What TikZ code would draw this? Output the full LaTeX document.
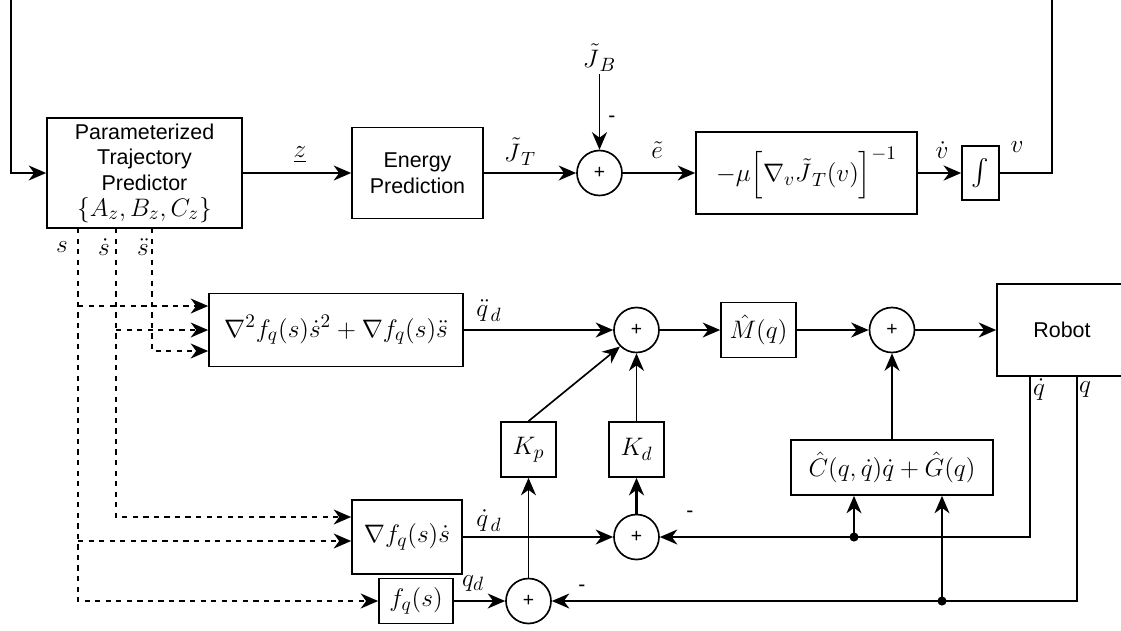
\documentclass[tikz,border=0pt]{standalone}
\usepackage{amsmath,amssymb}
\usepackage{fontspec}
\newfontfamily\arialfont{Liberation Sans}
\newcommand{\mathsz}{\fontsize{15}{18}\selectfont}
\newcommand{\txtsz}{\arialfont\fontsize{12.2}{14.6}\selectfont}
\usepackage{tikz}
\usetikzlibrary{arrows.meta,positioning}

\begin{document}
\begin{tikzpicture}[line width=0.95pt,
      blk/.style={draw, inner sep=2pt, font=\mathsz},
      txt/.style={draw, align=center, inner sep=2pt, font=\txtsz},
      sumc/.style={draw, circle, minimum size=0.9cm, inner sep=0pt,
                   font=\arialfont\fontsize{11}{12}\selectfont},
      lbl/.style={inner sep=1pt, font=\mathsz},
      sgn/.style={inner sep=0pt, font=\arialfont\fontsize{12}{12}\selectfont},
      arr/.style={-{Stealth[length=3.5mm,width=3mm,inset=1.1mm]}},
      dsh/.style={dashed, arr}
  ]
    \useasboundingbox (0,0) rectangle (22.42,-12.6);
    \node[txt, minimum width=3.9cm, minimum height=2.2cm] (pred) at (2.89,-3.46)
          {Parameterized\\ Trajectory\\ Predictor\\ {\mathsz$\{A_z,B_z,C_z\}$}};
    \node[txt, minimum width=2.62cm, minimum height=1.82cm] (energy) at (8.35,-3.46)
          {Energy\\ Prediction};
    \node[sumc] (s1) at (11.99,-3.46) {+};
    \node[blk, minimum width=4.42cm, minimum height=1.64cm] (grad) at (16.13,-3.46)
          {$-\mu\Big[\nabla_v\tilde{J}_{\,T}(v)\Big]^{-1}$};
    \node[blk, minimum width=0.74cm, minimum height=1.08cm, inner sep=0pt] (integ) at (19.61,-3.46) {$\int$};

    \node[blk, minimum width=5.08cm, minimum height=1.46cm] (acc) at (6.72,-6.6)
          {$\nabla^2 f_q(s)\dot{s}^2+\nabla f_q(s)\ddot{s}$};
    \node[sumc] (s2) at (12.73,-6.6) {+};
    \node[blk, minimum width=1.5cm, minimum height=1.1cm] (mhat) at (15.17,-6.6) {$\hat{M}(q)$};
    \node[sumc] (s3) at (17.84,-6.6) {+};
    \node[txt, minimum width=2.6cm, minimum height=1.84cm] (robot) at (21.24,-6.6) {Robot};

    \node[blk, minimum size=1.1cm] (kp) at (10.57,-8.99) {$K_p$};
    \node[blk, minimum size=1.1cm] (kd) at (12.73,-8.99) {$K_d$};
    \node[blk, minimum width=4.04cm, minimum height=1.1cm] (cg) at (17.84,-9.35)
          {$\hat{C}(q,\dot{q})\dot{q}+\hat{G}(q)$};

    \node[blk, minimum width=2.2cm, minimum height=1.48cm] (vel) at (8.14,-10.74) {$\nabla f_q(s)\dot{s}$};
    \node[sumc] (s5) at (12.73,-10.74) {+};
    \node[blk, minimum width=1.48cm, minimum height=0.9cm] (pos) at (8.32,-12.02) {$f_q(s)$};
    \node[sumc] (s4) at (10.57,-12.02) {+};

    \node[lbl] (lz)   at (6.0,-3.1)    {$\underline{z}$};
    \node[lbl] (ljt)  at (10.4,-3.04)  {$\tilde{J}_{\,T}$};
    \node[lbl] (ljb)  at (11.99,-1.16) {$\tilde{J}_{\,B}$};
    \node[sgn] (m1)   at (12.24,-2.38) {-};
    \node[lbl] (le)   at (13.14,-3.0)  {$\tilde{e}$};
    \node[lbl] (lvd)  at (18.84,-3.0)  {$\dot{v}$};
    \node[lbl] (lv)   at (20.34,-2.94) {$v$};
    \node[lbl] (ls)   at (1.24,-4.94)  {$s$};
    \node[lbl] (lsd)  at (2.08,-4.94)  {$\dot{s}$};
    \node[lbl] (lsdd) at (2.86,-4.94)  {$\ddot{s}$};
    \node[lbl] (lqdd) at (9.78,-6.22)  {$\ddot{q}_{\,d}$};
    \node[lbl] (lqd)  at (9.78,-10.42) {$\dot{q}_{\,d}$};
    \node[lbl] (lq)   at (9.46,-11.66) {$q_d$};
    \node[sgn] (m2)   at (13.8,-10.28) {-};
    \node[sgn] (m3)   at (11.64,-11.76) {-};
    \node[lbl] (lqdot) at (20.78,-7.8) {$\dot{q}$};
    \node[lbl] (lqq)  at (21.7,-7.8)   {$q$};

    \coordinate (fbL) at (0.22,0);
    \coordinate (fbR) at (21.04,0);
    \coordinate (sx)   at (1.56,-4.56);
    \coordinate (sdx)  at (2.32,-4.56);
    \coordinate (sddx) at (3.04,-4.56);
    \coordinate (qdo) at (20.6,-7.52);
    \coordinate (qo)  at (21.54,-7.52);
    \coordinate (jq1) at (17.08,-10.74);
    \coordinate (jq2) at (18.84,-12.02);

    \draw[arr] (fbL) |- (pred.west);
    \draw[arr] (pred) -- (energy);
    \draw[arr] (energy) -- (s1);
    \draw[arr] (ljb) -- (s1);
    \draw[arr] (s1) -- (grad);
    \draw[arr, line width=1.6pt] (grad) -- (integ);
    \draw (integ.east) -| (fbR);

    \draw[dsh] (sx) |- (pos.west);
    \draw[dsh] (sx |- 0,-6.12) -- (acc.west |- 0,-6.12);
    \draw[dsh] (sx |- 0,-10.82) -- (vel.west |- 0,-10.82);
    \draw[dsh] (sdx) |- (vel.west |- 0,-10.34);
    \draw[dsh] (sdx |- acc.west) -- (acc.west);
    \draw[dsh] (sddx) |- (acc.west |- 0,-7.02);

    \draw[arr] (acc) -- (s2);
    \draw[arr] (s2) -- (mhat);
    \draw[arr] (mhat) -- (s3);
    \draw[arr] (s3) -- (robot);
    \draw[arr] (kp.north) -- (s2.south west);
    \draw[arr] (kd) -- (s2);
    \draw[arr] (cg) -- (s3);
    \draw[arr, line width=1.6pt] (s5) -- (kd);
    \draw[arr] (s4) -- (kp);
    \draw[arr] (vel) -- (s5);
    \draw[arr] (pos) -- (s4);
    \draw[arr] (qdo) |- (s5.east);
    \draw[arr] (qo) |- (s4.east);
    \fill (jq1) circle (2.6pt);
    \fill (jq2) circle (2.6pt);
    \draw[arr] (jq1) -- (jq1 |- cg.south);
    \draw[arr] (jq2) -- (jq2 |- cg.south);
  \end{tikzpicture}
\end{document}
